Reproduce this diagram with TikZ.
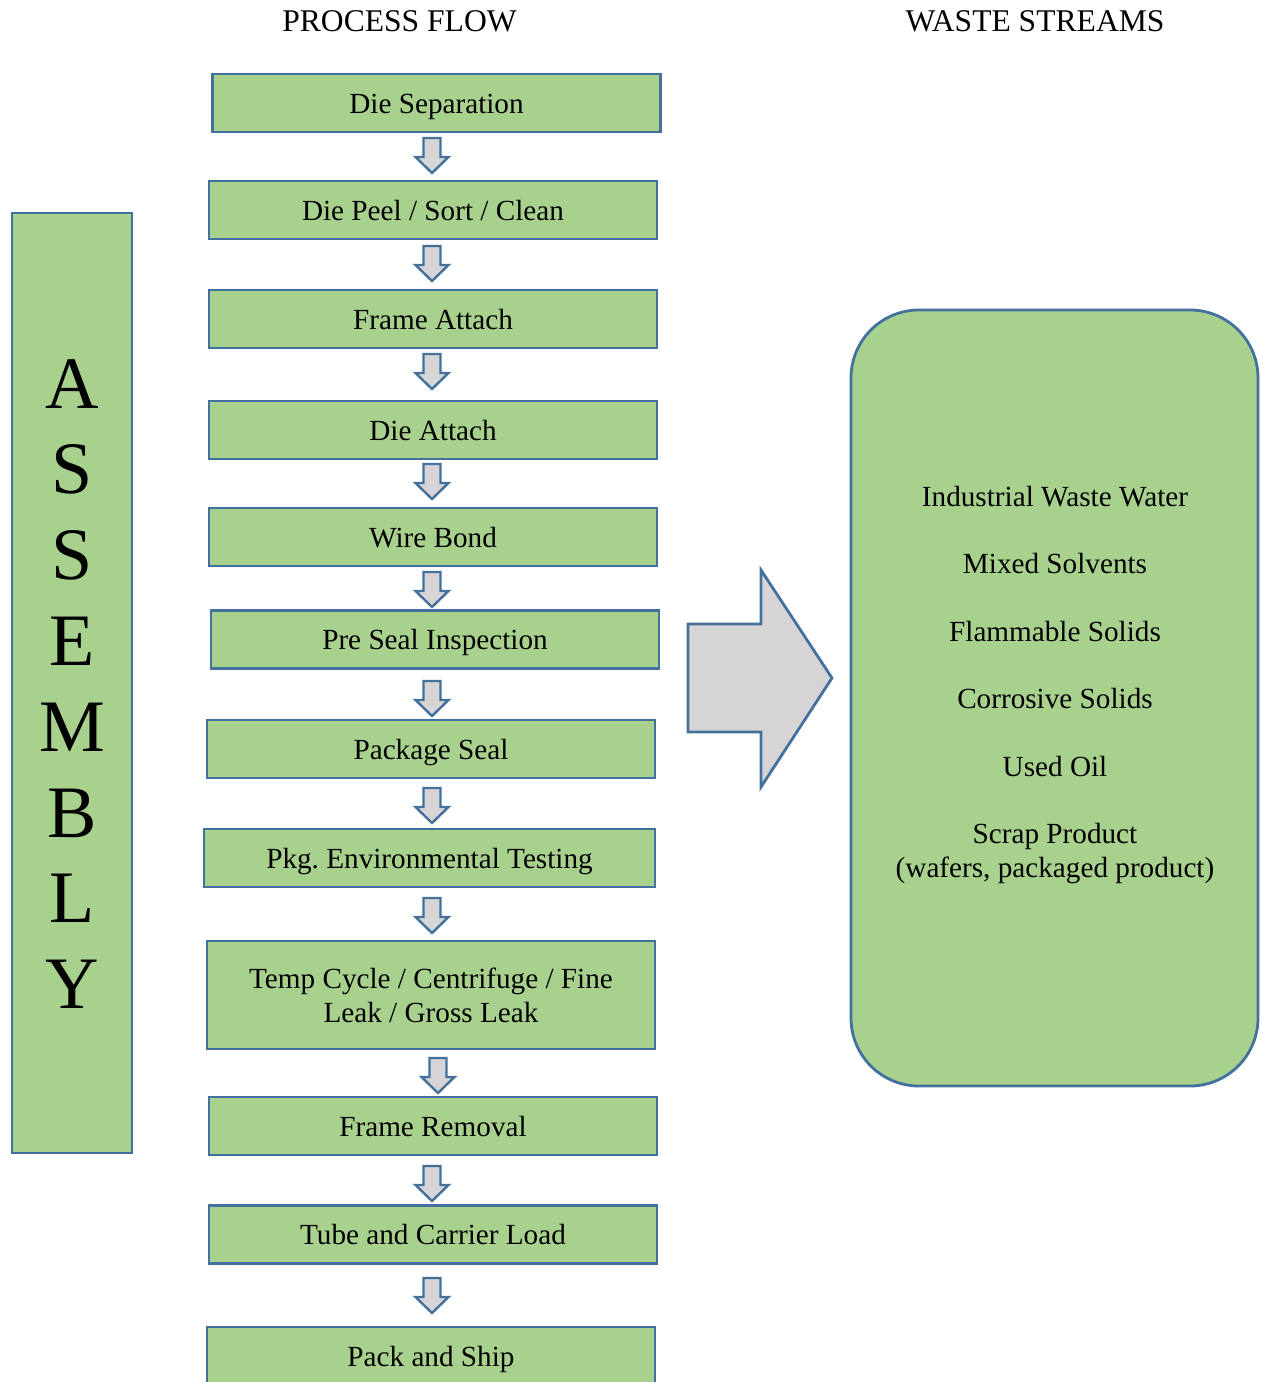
\documentclass[tikz,border=0pt]{standalone}
\usepackage{fontspec}
\setmainfont{Liberation Serif}
\frenchspacing
\definecolor{boxgreen}{RGB}{169,209,142}
\definecolor{edgeblue}{RGB}{65,113,156}
\definecolor{arrowgray}{RGB}{214,212,212}

\begin{document}
\begin{tikzpicture}[x=0.5pt,y=-0.5pt,
  proc/.style={draw=edgeblue, fill=boxgreen, line width=1.4pt,
    minimum width=224pt, minimum height=29pt, inner sep=0pt,
    font=\fontsize{14.6}{17}\selectfont, align=center},
  oneline/.style={proc, text height=11pt, text depth=1pt},
  heading/.style={font=\fontsize{15.8}{19}\selectfont, inner sep=0pt},
  wastetext/.style={font=\fontsize{14.6}{17}\selectfont, align=center, inner sep=0pt},
  blockarrow/.style={draw=edgeblue, fill=arrowgray, line width=1.2pt, line join=miter},
  dnarrow/.pic={\draw[blockarrow] (-8.5,0) -- (8.5,0) -- (8.5,19) -- (16.5,19)
      -- (0,35) -- (-16.5,19) -- (-8.5,19) -- cycle;}]

\useasboundingbox (0,0) rectangle (1260,1382);
\begin{scope}
\clip (0,0) rectangle (1260,1382);

% column headings
\node[heading] (hflow) at (399.5,21) {PROCESS FLOW};
\node[heading] (hwaste) at (1035,21) {WASTE STREAMS};

% vertical ASSEMBLY bar
\node[draw=edgeblue, fill=boxgreen, line width=1.4pt, minimum width=60pt,
  minimum height=470pt, inner sep=0pt] (bar) at (72,683) {};
\node[font=\fontsize{37}{42.9}\selectfont, align=center, inner sep=0pt] (word)
  at (72,684) {A\\S\\S\\E\\M\\B\\L\\Y};

% process steps
\node[oneline] (s1) at (436.5,103) {Die Separation};
\node[oneline] (s2) at (433,210) {Die Peel / Sort / Clean};
\node[oneline] (s3) at (433,319) {Frame Attach};
\node[oneline] (s4) at (433,430) {Die Attach};
\node[oneline] (s5) at (433,537) {Wire Bond};
\node[oneline] (s6) at (435,639.5) {Pre Seal Inspection};
\node[oneline] (s7) at (431,749) {Package Seal};
\node[oneline, minimum width=225.5pt] (s8) at (429.5,858) {Pkg. Environmental Testing};
\node[proc, minimum height=54pt] (s9) at (431,995)
  {Temp Cycle / Centrifuge / Fine\\Leak / Gross Leak};
\node[oneline] (s10) at (433,1126) {Frame Removal};
\node[oneline] (s11) at (433,1234.5) {Tube and Carrier Load};
\node[oneline] (s12) at (431,1356) {Pack and Ship};

% block arrows between the steps
\pic (a1) at (432,138) {dnarrow};
\pic (a2) at (432,246) {dnarrow};
\pic (a3) at (432,354) {dnarrow};
\pic (a4) at (432,464) {dnarrow};
\pic (a5) at (432,572) {dnarrow};
\pic (a6) at (432,681) {dnarrow};
\pic (a7) at (432,788) {dnarrow};
\pic (a8) at (432,898) {dnarrow};
\pic (a9) at (438,1058) {dnarrow};
\pic (a10) at (432,1166) {dnarrow};
\pic (a11) at (432,1278) {dnarrow};

% large arrow towards the waste streams
\draw[blockarrow, line width=1.4pt] (688,624) -- (761,624) -- (761,570) -- (832,678)
  -- (761,787) -- (761,732) -- (688,732) -- cycle;

% waste streams panel
\node[draw=edgeblue, fill=boxgreen, line width=1.4pt, rounded corners=34pt,
  minimum width=203.5pt, minimum height=388pt, inner sep=0pt] (waste) at (1054.5,698) {};
\node[wastetext] (w1) at (1055,497) {Industrial Waste Water};
\node[wastetext] (w2) at (1055,564) {Mixed Solvents};
\node[wastetext] (w3) at (1055,632) {Flammable Solids};
\node[wastetext] (w4) at (1055,699) {Corrosive Solids};
\node[wastetext] (w5) at (1055,767) {Used Oil};
\node[wastetext] (w6) at (1055,854) {Scrap Product\\(wafers, packaged product)};
\end{scope}
\end{tikzpicture}
\end{document}
